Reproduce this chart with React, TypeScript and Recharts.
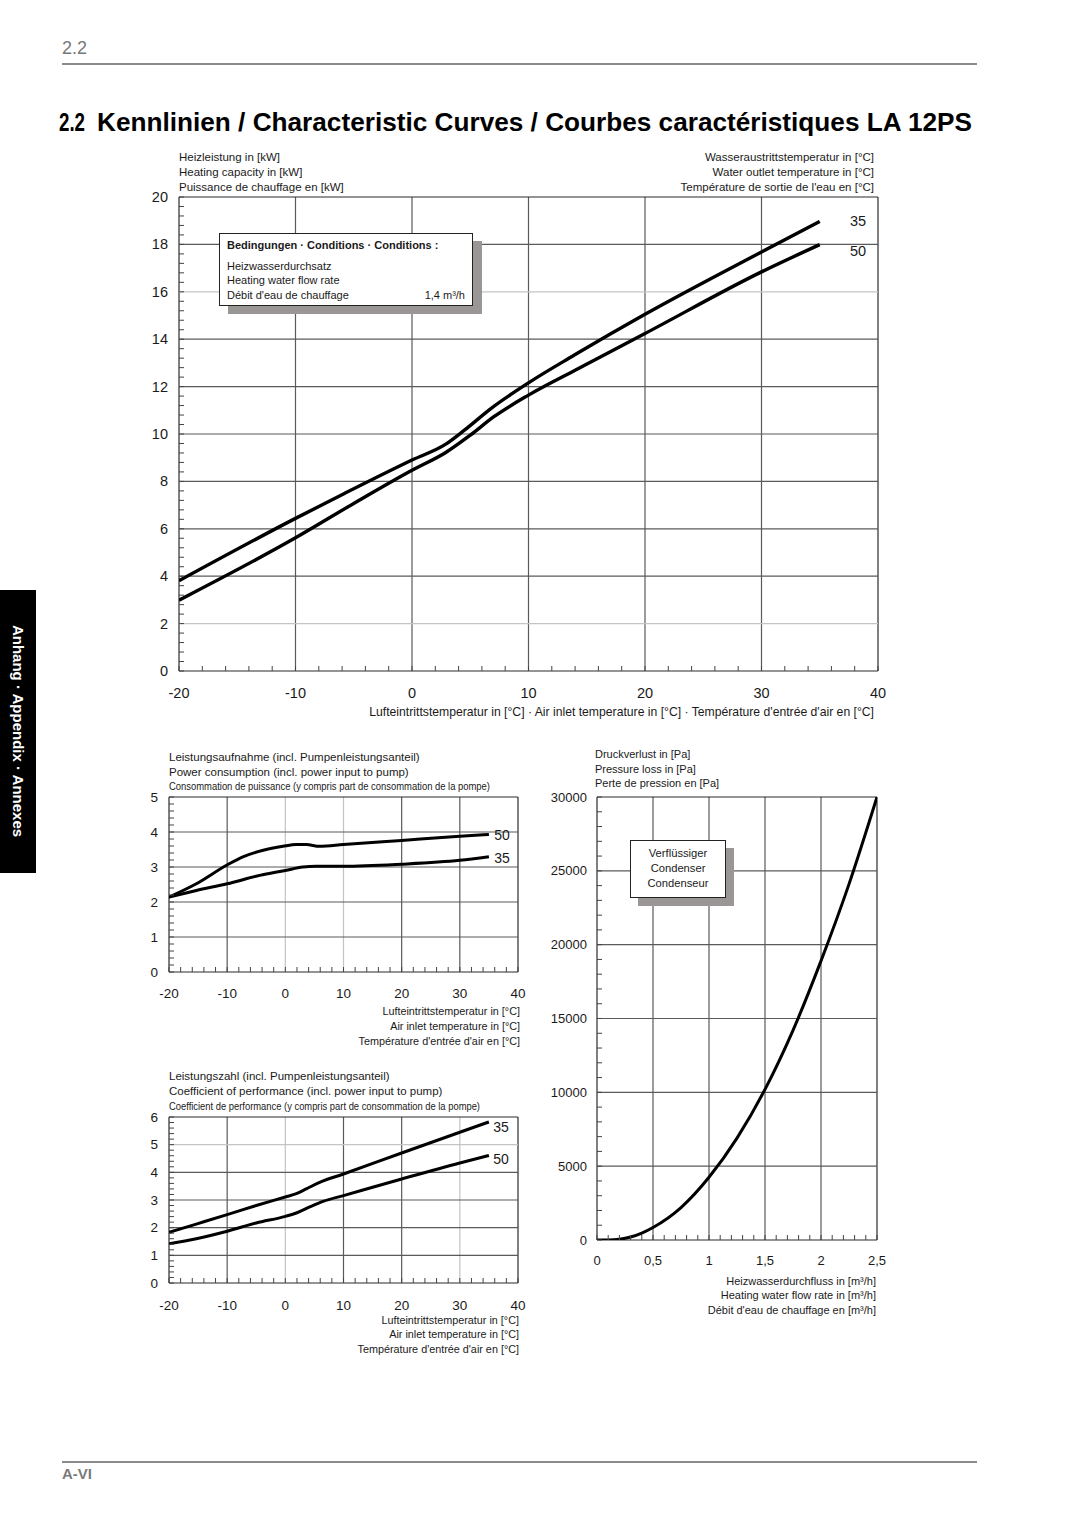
import React from 'react';
import { LineChart, Line, XAxis, YAxis, ReferenceLine } from 'recharts';

const FONT = '"Liberation Sans", Arial, Helvetica, sans-serif';

// ---------- data: heating capacity (kW) vs air inlet temperature (°C) ----------
const MAIN_AIR_35 = [-20, -10, -5.8, 0, 2.9, 4.5, 6.8, 10, 13.9, 20, 30, 35];
const MAIN_KW_35 = [3.81, 6.44, 7.49, 8.9, 9.57, 10.16, 11.08, 12.16, 13.32, 15.05, 17.68, 18.97];
const MAIN_AIR_50 = [-20, -10, -5, 0, 2.9, 5, 7, 10, 14, 20, 30, 35];
const MAIN_KW_50 = [2.99, 5.62, 7.07, 8.47, 9.22, 9.95, 10.72, 11.64, 12.69, 14.24, 16.84, 17.99];

// ---------- data: power consumption (kW) ----------
const PWR_AIR_50 = [-20, -15.3, -10.1, -7.3, -3.8, -0.4, 1.9, 3.6, 5.9, 10, 20, 30, 35];
const PWR_KW_50 = [2.14, 2.52, 3.05, 3.29, 3.48, 3.59, 3.64, 3.64, 3.59, 3.64, 3.76, 3.88, 3.93];
const PWR_AIR_35 = [-20, -15.3, -10, -4.4, 0, 3, 5.3, 10, 20, 30, 35];
const PWR_KW_35 = [2.14, 2.33, 2.52, 2.76, 2.9, 3.0, 3.02, 3.02, 3.08, 3.19, 3.29];

// ---------- data: coefficient of performance ----------
const COP_AIR_35 = [-20, -15.3, -10, -5, 0, 1.9, 3.6, 5.9, 10, 20, 30, 35];
const COP_35 = [1.83, 2.13, 2.47, 2.8, 3.11, 3.23, 3.4, 3.64, 3.94, 4.7, 5.45, 5.82];
const COP_AIR_50 = [-20, -15.3, -10, -5, 0, 1.9, 4.2, 6.5, 10, 20, 30, 35];
const COP_50 = [1.42, 1.6, 1.87, 2.17, 2.41, 2.53, 2.75, 2.95, 3.16, 3.76, 4.34, 4.61];

// ---------- data: condenser pressure loss (Pa) vs flow (m³/h) ----------
const FLOW = [0, 0.1, 0.2, 0.3, 0.4, 0.5, 0.75, 1.0, 1.25, 1.5, 1.75, 2.0, 2.25, 2.5];
const PRESSURE = [0, 0, 50, 200, 470, 850, 2200, 4250, 6900, 10200, 14200, 18900, 24100, 30000];

// ---------- tick labels ----------
const AIR_TICKS = [-20, -10, 0, 10, 20, 30, 40];
const AIR_LABELS = ['-20', '-10', '0', '10', '20', '30', '40'];
const KW_TICKS = [0, 2, 4, 6, 8, 10, 12, 14, 16, 18, 20];
const KW_LABELS = ['0', '2', '4', '6', '8', '10', '12', '14', '16', '18', '20'];
const PWR_TICKS = [0, 1, 2, 3, 4, 5];
const PWR_LABELS = ['0', '1', '2', '3', '4', '5'];
const COP_TICKS = [0, 1, 2, 3, 4, 5, 6];
const COP_LABELS = ['0', '1', '2', '3', '4', '5', '6'];
const FLOW_TICKS = [0, 0.5, 1, 1.5, 2, 2.5];
const FLOW_LABELS = ['0', '0,5', '1', '1,5', '2', '2,5'];
const PA_TICKS = [0, 5000, 10000, 15000, 20000, 25000, 30000];
const PA_LABELS = ['0', '5000', '10000', '15000', '20000', '25000', '30000'];

function steps(a: number, b: number, s: number) {
  const out: number[] = [];
  const n = Math.round((b - a) / s);
  for (let i = 0; i <= n; i++) out.push(Math.round((a + i * s) * 1e6) / 1e6);
  return out;
}

type Series = { xs: number[]; ys: number[]; width: number };

type ChartProps = {
  L: number; T: number; R: number; B: number;
  xDomain: [number, number]; yDomain: [number, number];
  xMajor: number[]; yMajor: number[];
  xLabels: string[]; yLabels: string[];
  xMinorStep: number; yMinorStep: number;
  lightX?: number[]; lightY?: number[];
  series: Series[];
  xFont: number; yFont: number; xDy: number; yDx: number;
};

const idx = (arr: number[], v: number) => arr.findIndex((m) => Math.abs(m - v) < 1e-6);

function Chart(p: ChartProps) {
  const ML = 70, MT = 20, MR = 40, XH = 40;
  const pw = p.R - p.L, ph = p.B - p.T;
  const width = ML + pw + MR, height = MT + ph + XH;
  const xTicks = steps(p.xDomain[0], p.xDomain[1], p.xMinorStep);
  const yTicks = steps(p.yDomain[0], p.yDomain[1], p.yMinorStep);
  const lightX = p.lightX || [];
  const lightY = p.lightY || [];

  const XTick = (props: any) => {
    const { x, y, payload } = props;
    const i = idx(p.xMajor, payload.value);
    return (
      <g>
        <line x1={x} x2={x} y1={y} y2={y - 5} stroke="#444" strokeWidth={1} />
        {i >= 0 && (
          <text x={x} y={y + p.xDy} textAnchor="middle" dominantBaseline="central" fontSize={p.xFont} fill="#1a1a1a" fontFamily={FONT}>
            {p.xLabels[i]}
          </text>
        )}
      </g>
    );
  };
  const YTick = (props: any) => {
    const { x, y, payload } = props;
    const i = idx(p.yMajor, payload.value);
    return (
      <g>
        <line x1={x} x2={x + 5} y1={y} y2={y} stroke="#444" strokeWidth={1} />
        {i >= 0 && (
          <text x={x - p.yDx} y={y} textAnchor="end" dominantBaseline="central" fontSize={p.yFont} fill="#1a1a1a" fontFamily={FONT}>
            {p.yLabels[i]}
          </text>
        )}
      </g>
    );
  };

  const gridColor = (v: number, dom: [number, number], light: number[]) => {
    if (Math.abs(v - dom[0]) < 1e-6 || Math.abs(v - dom[1]) < 1e-6) return '#2a2a2a';
    if (idx(light, v) >= 0) return '#c4c4c4';
    return '#5a5a5a';
  };

  return (
    <div style={{ position: 'absolute', left: p.L - ML, top: p.T - MT }}>
      <LineChart width={width} height={height} margin={{ top: MT, right: MR, bottom: 0, left: 0 }}>
        <XAxis
          type="number" dataKey="x" domain={p.xDomain} ticks={xTicks} interval={0}
          tickSize={0} tickMargin={0} axisLine={false} tickLine={false} tick={XTick}
          height={XH} allowDataOverflow
        />
        <YAxis
          type="number" dataKey="y" domain={p.yDomain} ticks={yTicks} interval={0}
          tickSize={0} tickMargin={0} axisLine={false} tickLine={false} tick={YTick}
          width={ML} allowDataOverflow
        />
        {p.xMajor.map((v) => (
          <ReferenceLine key={'x' + v} x={v} stroke={gridColor(v, p.xDomain, lightX)} strokeWidth={1.2} />
        ))}
        {p.yMajor.map((v) => (
          <ReferenceLine key={'y' + v} y={v} stroke={gridColor(v, p.yDomain, lightY)} strokeWidth={1.2} />
        ))}
        {p.series.map((s, i) => (
          <Line
            key={i}
            data={s.xs.map((x, j) => ({ x, y: s.ys[j] }))}
            dataKey="y" type="monotone" stroke="#000" strokeWidth={s.width}
            dot={false} activeDot={false} isAnimationActive={false}
          />
        ))}
      </LineChart>
    </div>
  );
}

type TxtProps = {
  x: number; y: number; size?: number; anchor?: 'start' | 'middle' | 'end';
  bold?: boolean; color?: string; children: React.ReactNode;
};
function Txt({ x, y, size = 11, anchor = 'start', bold = false, color = '#1a1a1a', children }: TxtProps) {
  const lh = Math.round(size * 1.2);
  const style: React.CSSProperties = {
    position: 'absolute', top: y - lh / 2, fontSize: size, lineHeight: lh + 'px',
    fontFamily: FONT, fontWeight: bold ? 700 : 400, color, whiteSpace: 'nowrap',
  };
  if (anchor === 'start') style.left = x;
  else if (anchor === 'end') style.right = 1080 - x;
  else { style.left = x; style.transform = 'translateX(-50%)'; }
  return <div style={style}>{children}</div>;
}

// svg text with an exact width (for condensed lines)
function SText({ x, base, w, size, bold = false, color = '#1a1a1a', children }: {
  x: number; base: number; w: number; size: number; bold?: boolean; color?: string; children: string;
}) {
  const h = Math.ceil(size * 1.7);
  const top = base - Math.ceil(size * 1.2);
  return (
    <svg style={{ position: 'absolute', left: x - 4, top, overflow: 'visible' }} width={w + 60} height={h}>
      <text x={4} y={base - top} fontSize={size} fontFamily={FONT} fontWeight={bold ? 700 : 400}
        fill={color} textLength={w} lengthAdjust="spacingAndGlyphs">
        {children}
      </text>
    </svg>
  );
}

function Box({ l, t, w, h, sx, sy }: { l: number; t: number; w: number; h: number; sx: number; sy: number }) {
  return (
    <>
      <div style={{ position: 'absolute', left: l + sx, top: t + sy, width: w, height: h, background: '#9b9696' }} />
      <div style={{ position: 'absolute', left: l, top: t, width: w - 2, height: h - 2, background: '#fff', border: '1px solid #222' }} />
    </>
  );
}

export default function App() {
  return (
    <div style={{ position: 'absolute', left: 0, top: 0, width: 1080, height: 1527, background: '#fff', overflow: 'hidden', fontFamily: FONT }}>
      {/* header */}
      <SText x={62} base={54} w={25} size={18} color="#777">2.2</SText>
      <div style={{ position: 'absolute', left: 62, top: 63, width: 915, height: 2, background: '#8a8a8a' }} />
      <SText x={59} base={131} w={26} size={25} bold color="#000">2.2</SText>
      <SText x={97} base={131} w={875} size={25} bold color="#000">
        Kennlinien / Characteristic Curves / Courbes caractéristiques LA 12PS
      </SText>

      {/* side tab */}
      <div style={{ position: 'absolute', left: 0, top: 590, width: 36, height: 283, background: '#000' }} />
      <div style={{
        position: 'absolute', left: 18, top: 731, transform: 'translate(-50%, -50%) rotate(90deg)',
        color: '#fff', fontFamily: FONT, fontWeight: 700, fontSize: 15, whiteSpace: 'nowrap', lineHeight: '18px',
      }}>Anhang · Appendix · Annexes</div>

      {/* ---------- main chart ---------- */}
      <Txt x={179} y={157} size={11.5}>Heizleistung in [kW]</Txt>
      <Txt x={179} y={172} size={11.5}>Heating capacity in [kW]</Txt>
      <Txt x={179} y={187} size={11.5}>Puissance de chauffage en [kW]</Txt>
      <Txt x={874} y={157} size={11.5} anchor="end">Wasseraustrittstemperatur in [°C]</Txt>
      <Txt x={874} y={172} size={11.5} anchor="end">Water outlet temperature in [°C]</Txt>
      <Txt x={874} y={187} size={11.5} anchor="end">Température de sortie de l'eau en [°C]</Txt>
      <Chart
        L={179} T={197} R={878} B={671}
        xDomain={[-20, 40]} yDomain={[0, 20]}
        xMajor={AIR_TICKS} xLabels={AIR_LABELS} yMajor={KW_TICKS} yLabels={KW_LABELS}
        xMinorStep={2} yMinorStep={0.4} lightY={[2, 16]}
        xFont={14.5} yFont={14.5} xDy={22} yDx={11}
        series={[
          { xs: MAIN_AIR_35, ys: MAIN_KW_35, width: 3.4 },
          { xs: MAIN_AIR_50, ys: MAIN_KW_50, width: 3.4 },
        ]}
      />
      <Txt x={858} y={221} size={14.5} anchor="middle">35</Txt>
      <Txt x={858} y={251} size={14.5} anchor="middle">50</Txt>
      <Box l={219} t={233} w={254} h={73} sx={9} sy={8} />
      <Txt x={227} y={245} size={11} bold>Bedingungen · Conditions · Conditions :</Txt>
      <Txt x={227} y={266} size={11}>Heizwasserdurchsatz</Txt>
      <Txt x={227} y={280} size={11}>Heating water flow rate</Txt>
      <Txt x={227} y={295} size={11}>Débit d'eau de chauffage</Txt>
      <Txt x={465} y={295} size={11} anchor="end">1,4 m³/h</Txt>
      <Txt x={874} y={712} size={12.2} anchor="end">
        Lufteintrittstemperatur in [°C] · Air inlet temperature in [°C] · Température d'entrée d'air en [°C]
      </Txt>

      {/* ---------- power consumption ---------- */}
      <Txt x={169} y={757} size={11.5}>Leistungsaufnahme (incl. Pumpenleistungsanteil)</Txt>
      <Txt x={169} y={772} size={11.5}>Power consumption (incl. power input to pump)</Txt>
      <SText x={169} base={790} w={321} size={10.5}>
        Consommation de puissance (y compris part de consommation de la pompe)
      </SText>
      <Chart
        L={169} T={797} R={518} B={972}
        xDomain={[-20, 40]} yDomain={[0, 5]}
        xMajor={AIR_TICKS} xLabels={AIR_LABELS} yMajor={PWR_TICKS} yLabels={PWR_LABELS}
        xMinorStep={2} yMinorStep={0.2} lightX={[0, 10]}
        xFont={13.5} yFont={13.5} xDy={21} yDx={11}
        series={[
          { xs: PWR_AIR_50, ys: PWR_KW_50, width: 3 },
          { xs: PWR_AIR_35, ys: PWR_KW_35, width: 3 },
        ]}
      />
      <Txt x={502} y={835} size={14} anchor="middle">50</Txt>
      <Txt x={502} y={858} size={14} anchor="middle">35</Txt>
      <Txt x={520} y={1011.5} size={10.8} anchor="end">Lufteintrittstemperatur in [°C]</Txt>
      <Txt x={520} y={1026.5} size={10.8} anchor="end">Air inlet temperature in [°C]</Txt>
      <Txt x={520} y={1041.5} size={10.8} anchor="end">Température d'entrée d'air en [°C]</Txt>

      {/* ---------- COP ---------- */}
      <Txt x={169} y={1076} size={11.5}>Leistungszahl (incl. Pumpenleistungsanteil)</Txt>
      <Txt x={169} y={1091} size={11.5}>Coefficient of performance (incl. power input to pump)</Txt>
      <SText x={169} base={1110} w={311} size={10.5}>
        Coefficient de performance (y compris part de consommation de la pompe)
      </SText>
      <Chart
        L={169} T={1117} R={518} B={1283}
        xDomain={[-20, 40]} yDomain={[0, 6]}
        xMajor={AIR_TICKS} xLabels={AIR_LABELS} yMajor={COP_TICKS} yLabels={COP_LABELS}
        xMinorStep={2} yMinorStep={0.2} lightX={[0, 30]} lightY={[5]}
        xFont={13.5} yFont={13.5} xDy={22.5} yDx={11}
        series={[
          { xs: COP_AIR_35, ys: COP_35, width: 3 },
          { xs: COP_AIR_50, ys: COP_50, width: 3 },
        ]}
      />
      <Txt x={501} y={1127} size={14} anchor="middle">35</Txt>
      <Txt x={501} y={1159} size={14} anchor="middle">50</Txt>
      <Txt x={519} y={1320} size={10.8} anchor="end">Lufteintrittstemperatur in [°C]</Txt>
      <Txt x={519} y={1334.5} size={10.8} anchor="end">Air inlet temperature in [°C]</Txt>
      <Txt x={519} y={1349} size={10.8} anchor="end">Température d'entrée d'air en [°C]</Txt>

      {/* ---------- pressure loss ---------- */}
      <Txt x={595} y={754} size={11}>Druckverlust in [Pa]</Txt>
      <Txt x={595} y={769} size={11}>Pressure loss in [Pa]</Txt>
      <Txt x={595} y={783.5} size={11}>Perte de pression en [Pa]</Txt>
      <Chart
        L={597} T={797} R={877} B={1240}
        xDomain={[0, 2.5]} yDomain={[0, 30000]}
        xMajor={FLOW_TICKS} xLabels={FLOW_LABELS} yMajor={PA_TICKS} yLabels={PA_LABELS}
        xMinorStep={0.1} yMinorStep={1000}
        xFont={13} yFont={13} xDy={20} yDx={10}
        series={[{ xs: FLOW, ys: PRESSURE, width: 3 }]}
      />
      <Box l={630} t={840} w={96} h={58} sx={8} sy={8} />
      <Txt x={678} y={853.5} size={11.2} anchor="middle">Verflüssiger</Txt>
      <Txt x={678} y={868.5} size={11.2} anchor="middle">Condenser</Txt>
      <Txt x={678} y={883.5} size={11.2} anchor="middle">Condenseur</Txt>
      <Txt x={876} y={1281} size={11} anchor="end">Heizwasserdurchfluss in [m³/h]</Txt>
      <Txt x={876} y={1295.5} size={11} anchor="end">Heating water flow rate in [m³/h]</Txt>
      <Txt x={876} y={1310} size={11} anchor="end">Débit d'eau de chauffage en [m³/h]</Txt>

      {/* footer */}
      <div style={{ position: 'absolute', left: 62, top: 1461, width: 915, height: 2, background: '#8a8a8a' }} />
      <Txt x={62} y={1474} size={15} bold color="#7a7a7a">A-VI</Txt>
    </div>
  );
}
